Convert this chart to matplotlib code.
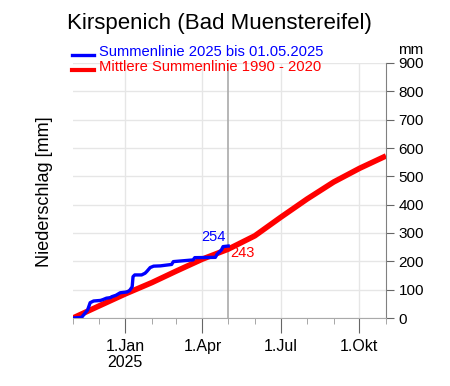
import matplotlib
matplotlib.use("Agg")
import matplotlib.pyplot as plt
import matplotlib.dates as mdates
from matplotlib.lines import Line2D
import pandas as pd

plt.rcParams['font.family'] = ['Liberation Sans', 'DejaVu Sans']

# ---- data ----
title = "Kirspenich (Bad Muenstereifel)"
label_2025 = "Summenlinie 2025 bis 01.05.2025"
label_mean = "Mittlere Summenlinie 1990 - 2020"

dates_2025 = ["2024-11-01", "2024-11-11", "2024-11-15", "2024-11-18", "2024-11-21",
              "2024-11-25", "2024-12-03", "2024-12-06", "2024-12-10", "2024-12-15",
              "2024-12-16", "2024-12-21", "2024-12-26", "2025-01-03", "2025-01-06",
              "2025-01-09", "2025-01-10", "2025-01-12", "2025-01-20", "2025-01-24",
              "2025-01-26", "2025-01-30", "2025-02-03", "2025-02-11", "2025-02-24",
              "2025-02-26", "2025-03-21", "2025-03-23", "2025-04-16", "2025-04-18",
              "2025-04-23", "2025-04-25", "2025-05-01"]
values_2025 = [0, 2, 17, 28, 54, 60, 62, 65, 70, 72, 75, 80, 89, 92, 97, 110, 146, 152,
               152, 158, 164, 178, 183, 184, 189, 199, 205, 213, 214, 225, 240, 252, 254]

dates_mean = ["2024-11-01", "2024-12-01", "2025-01-01", "2025-02-01", "2025-03-01",
              "2025-04-01", "2025-05-01", "2025-06-01", "2025-07-01", "2025-08-01",
              "2025-09-01", "2025-10-01", "2025-11-01"]
values_mean = [0, 42, 85, 125, 165, 208, 243, 290, 355, 420, 480, 528, 572]

major_ticks = ["2025-01-01", "2025-04-01", "2025-07-01", "2025-10-01"]
major_labels = ["1.Jan\n2025", "1.Apr", "1.Jul", "1.Okt"]
y_ticks = [0, 100, 200, 300, 400, 500, 600, 700, 800, 900]

end_2025_label = "254"
end_mean_label = "243"
cut_date = "2025-05-01"

# ---- figure ----
fig = plt.figure(figsize=(4.5, 3.86), dpi=100)
ax = fig.add_axes([73/450, 1-318/386, (386-73)/450, (318-63)/386])

d25 = pd.to_datetime(dates_2025)
dm = pd.to_datetime(dates_mean)

ax.set_xlim(pd.Timestamp("2024-11-01"), pd.Timestamp("2025-11-01"))
ax.set_ylim(0, 900)

for y in y_ticks:
    ax.axhline(y, color='#e6e6e6', lw=1, zorder=0)
for t in major_ticks:
    ax.axvline(pd.Timestamp(t), color='#e6e6e6', lw=1, zorder=0)
ax.axvline(pd.Timestamp(cut_date), color='#aaaaaa', lw=1.2, zorder=1)

ax.plot(dm, values_mean, color='#ff0000', lw=4, solid_capstyle='butt', zorder=3)
ax.plot(d25, values_2025, color='#0000ff', lw=2.4, zorder=4)

ax.text(pd.Timestamp("2025-04-28"), 262, end_2025_label, color='#0000ff',
        fontsize=10.5, ha='right', va='bottom')
ax.text(pd.Timestamp("2025-05-03"), 229, end_mean_label, color='#ff0000',
        fontsize=10.5, ha='left', va='center')

# spines
for s in ['left', 'top']:
    ax.spines[s].set_visible(False)
ax.spines['right'].set_color('#808080')
ax.spines['bottom'].set_color('#aaaaaa')

ax.yaxis.tick_right()
ax.set_yticks(y_ticks)
ax.tick_params(axis='y', which='major', direction='out', length=6, color='#666666',
               labelsize=11, pad=3)
for tk, v in zip(ax.yaxis.get_major_ticks(), y_ticks):
    if v in (0, 300, 600):
        tk.tick2line.set_color('#b0b0b0')

ax.set_xticks(pd.to_datetime(major_ticks))
ax.set_xticklabels(major_labels, fontsize=11.5, linespacing=1.1)
ax.xaxis.set_minor_locator(mdates.MonthLocator())
ax.tick_params(axis='x', which='major', direction='out', length=11, color='#666666', pad=4)
ax.tick_params(axis='x', which='minor', direction='out', length=4.5, color='#999999')

# texts
fig.text(219/450, 1-24/386, title, fontsize=16, ha='center', va='center')
fig.text(411/450, 1-50/386, "mm", fontsize=11, ha='center', va='center')
fig.text(45/450, 1-192/386, "Niederschlag [mm]", fontsize=13, rotation=90,
         ha='center', va='center')

# manual legend
fig.add_artist(Line2D([72/450, 94/450], [1-55/386, 1-55/386], color='#0000ff', lw=2.4))
fig.add_artist(Line2D([72/450, 94/450], [1-70/386, 1-70/386], color='#ff0000', lw=3))
fig.text(99/450, 1-52/386, label_2025, color='#0000ff', fontsize=10.6, va='center')
fig.text(99/450, 1-67/386, label_mean, color='#ff0000', fontsize=10.6, va='center')

fig.savefig("out.png", dpi=100)
